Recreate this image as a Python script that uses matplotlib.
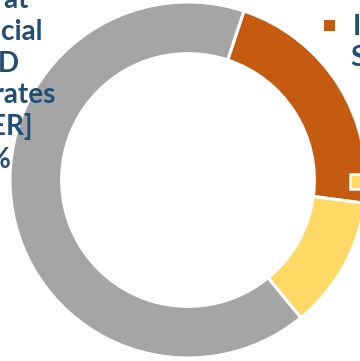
import matplotlib.pyplot as plt
from matplotlib.patches import Rectangle

# Data (share of each segment, %)
labels = ['Indian Subsidiaries', 'Other', 'Financial Corporates']
shares = [22, 12, 66]
colors = ['#C55A11', '#FFD966', '#A5A5A5']

# Label text (cut off by the chart edge in the original)
left_label = ['Exposure at', 'Financial', 'NBFC AD', 'Corporates', '[OTHER]', '66%']
legend_text = ['Indian', 'Subsidiaries']

W, H = 360, 361
fig = plt.figure(figsize=(W / 100, H / 100), dpi=100)
fig.patch.set_facecolor('white')

# axes placed so the ring is centred at (188, 180) px with radius 178 px
cx, cy, r = 188, 180, 178
ax = fig.add_axes([(cx - r) / W, (H - cy - r) / H, 2 * r / W, 2 * r / H])
ax.pie(shares, colors=colors, startangle=71.7, counterclock=False, radius=1,
       wedgeprops=dict(width=0.29, edgecolor='white', linewidth=2.2))
ax.set_xlim(-1, 1)
ax.set_ylim(-1, 1)
ax.axis('off')

font = dict(family=['Lato', 'DejaVu Sans'], weight='bold', color='#1F4E79', fontsize=20)

# left data label, right aligned lines (left part falls outside the figure)
ends = [29, 43, 19, 56, 33, 12]
bases = [8, 40, 72, 103, 135, 168]
for txt, xe, yb in zip(left_label, ends, bases):
    fig.text(xe / W, 1 - yb / H, txt, ha='right', va='baseline', **font)

# legend entry at top right
fig.add_artist(Rectangle((324 / W, 1 - 31 / H), 11 / W, 11 / H,
                         transform=fig.transFigure, facecolor=colors[0], edgecolor='none'))
fig.text(353 / W, 1 - 35 / H, legend_text[0], ha='left', va='baseline', **font)
fig.text(350 / W, 1 - 66 / H, legend_text[1], ha='left', va='baseline', **font)

# yellow legend key sitting on the ring
fig.add_artist(Rectangle((350 / W, 1 - 189 / H), 14 / W, 15 / H,
                         transform=fig.transFigure, facecolor=colors[1],
                         edgecolor='white', linewidth=1.8))

fig.savefig('out.png', dpi=100)
